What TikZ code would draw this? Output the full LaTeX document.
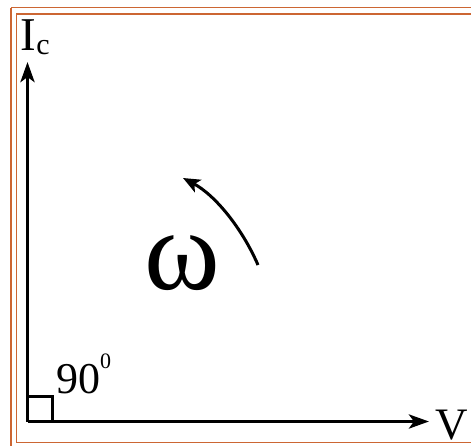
\documentclass[tikz,border=0pt]{standalone}
\usepackage{fontspec}
\setmainfont{Liberation Serif}
\usetikzlibrary{arrows.meta}
\definecolor{frame}{HTML}{CC6633}
\tikzset{
  border/.style={draw=frame, line width=1.8pt},
  axis/.style={draw=black, line width=3.8pt, -{Stealth[length=20pt,width=14pt,inset=5pt]}},
  rot/.style={draw=black, line width=3pt, -{Stealth[length=17pt,width=14pt,inset=4pt]}},
  corner/.style={draw=black, line width=3pt},
  lbl/.style={inner sep=0pt, anchor=base west, text=black}
}
\begin{document}
\begin{tikzpicture}[x=1pt,y=-1pt]
\useasboundingbox (0,0) rectangle (471,445);
% frame
\draw[border] (11,7.5) -- (480,7.5);
\draw[border] (11,7.5) -- (11,455);
\draw[border] (480,13.7) -- (16.5,13.7) -- (16.5,442.5) -- (480,442.5);
% axes
\coordinate (O) at (27.5,421.5);
\coordinate (ytip) at (27.5,62);
\coordinate (xtip) at (429,421.5);
\draw[axis] (O) -- (ytip);
\draw[axis] (O) -- (xtip);
\draw[corner] (27.5,396) -- (52,396) -- (52,421.5);
% labels
\node[lbl] (ic) at (20.5,50) {\fontsize{47}{47}\selectfont I\raisebox{-4pt}{\fontsize{30}{30}\selectfont c}};
\node[lbl] (v) at (435,439) {\fontsize{45}{45}\selectfont V};
\node[lbl] (ang) at (56,393) {\fontsize{44}{44}\selectfont 90\raisebox{25pt}{\fontsize{22}{22}\selectfont 0}};
\node[lbl] (om) at (144,289) {\fontsize{115}{115}\selectfont ω};
% rotation arrow
\coordinate (rs) at (258,265);
\coordinate (re) at (183,178);
\draw[rot] (rs) .. controls (242,228) and (215,195) .. (re);
\end{tikzpicture}
\end{document}
